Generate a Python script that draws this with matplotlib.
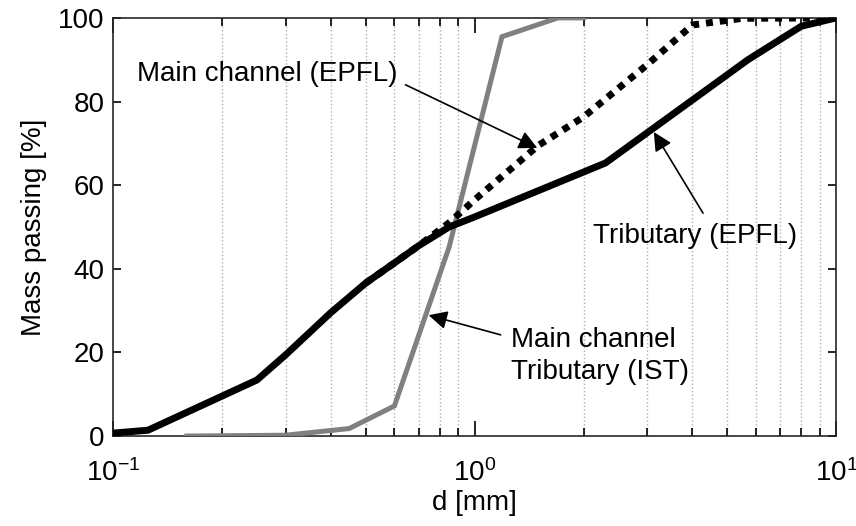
import matplotlib
matplotlib.use("Agg")
import matplotlib.pyplot as plt
from matplotlib.ticker import LogLocator, NullFormatter

plt.rcParams['font.family'] = ['Liberation Sans', 'DejaVu Sans']
plt.rcParams['mathtext.fontset'] = 'custom'
plt.rcParams['mathtext.rm'] = 'Liberation Sans'
plt.rcParams['mathtext.it'] = 'Liberation Sans:italic'

# grain size curves, d in mm, mass passing in %
trib_d = [0.1, 0.125, 0.25, 0.3, 0.4, 0.5, 0.6, 0.7, 0.85, 1.0, 2.3, 5.7, 8.0, 10.0]
trib_p = [0.7, 1.4, 13.4, 19.4, 29.5, 36.6, 41.4, 45.5, 50.0, 52.4, 65.3, 90.0, 98.0, 100.0]

main_d = [0.5, 0.6, 0.7, 0.85, 1.0, 1.5, 2.0, 3.0, 4.0, 5.5, 10.0]
main_p = [36.6, 41.4, 45.5, 51.0, 56.5, 69.5, 76.3, 88.8, 98.3, 99.9, 100.0]

ist_d = [0.16, 0.3, 0.45, 0.6, 0.85, 1.19, 1.7, 2.0]
ist_p = [0.0, 0.2, 1.8, 7.2, 45.2, 95.5, 100.0, 100.0]

fig = plt.figure(figsize=(8.56, 5.26), dpi=100)
ax = fig.add_axes([0.132, 0.171, 0.845, 0.795])

ax.plot(ist_d, ist_p, color='#808080', lw=3.6, solid_joinstyle='miter', zorder=3)
ax.plot(trib_d, trib_p, color='k', lw=5, solid_joinstyle='miter', zorder=4)
ax.plot(main_d, main_p, color='k', lw=5, linestyle=(0, (1, 1)), zorder=4)

ax.set_xscale('log')
ax.set_xlim(0.1, 10)
ax.set_ylim(0, 100)
ax.set_yticks([0, 20, 40, 60, 80, 100])
ax.xaxis.set_minor_locator(LogLocator(base=10, subs=range(2, 10)))
ax.xaxis.set_minor_formatter(NullFormatter())
ax.grid(True, which='minor', axis='x', linestyle=':', color='#b0b0b0', lw=1)

ax.tick_params(which='both', direction='in', top=True, right=True, labelsize=20, width=1.2)
ax.tick_params(axis='x', which='major', length=11, pad=17)
ax.tick_params(axis='x', which='minor', length=5.5)
ax.tick_params(axis='y', which='major', length=6, pad=6)
for s in ax.spines.values():
    s.set_linewidth(1.2)
    s.set_color('#262626')

ax.set_xlabel('d [mm]', fontsize=20, labelpad=2)
ax.set_ylabel('Mass passing [%]', fontsize=20, labelpad=8)

arrow = dict(arrowstyle='-|>', color='k', lw=1.2, mutation_scale=28, shrinkA=0, shrinkB=0)

ax.text(0.1166, 86.6, 'Main channel (EPFL)', fontsize=20, va='center', ha='left')
ax.annotate('', xy=(1.49, 68.9), xytext=(0.644, 84.0), arrowprops=arrow)

ax.text(2.12, 47.8, 'Tributary (EPFL)', fontsize=20, va='center', ha='left')
ax.annotate('', xy=(3.13, 72.7), xytext=(4.28, 53.3), arrowprops=arrow)

ax.text(1.26, 19.1, 'Main channel\nTributary (IST)', fontsize=20, va='center', ha='left',
        linespacing=1.3)
ax.annotate('', xy=(0.746, 28.9), xytext=(1.18, 24.2), arrowprops=arrow)

fig.savefig('out.png', dpi=100)
